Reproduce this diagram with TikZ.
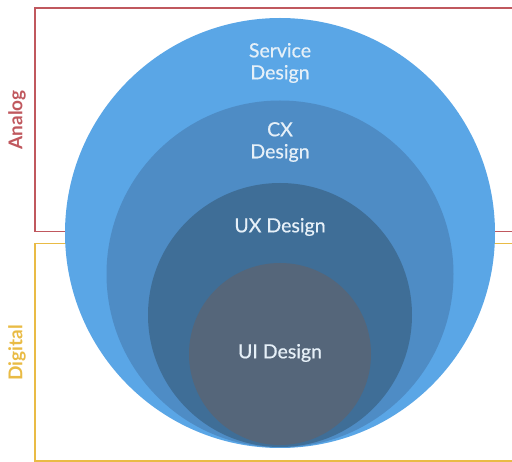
\documentclass[tikz,border=0pt]{standalone}
\usepackage{fontspec}
\setmainfont{Lato}
\newfontfamily\lblfont[FakeBold=0.6]{Lato}
\begin{document}
\begin{tikzpicture}[x=1pt,y=-1pt,
  lbl/.style={font=\lblfont\fontsize{19.5}{22}\selectfont, text=txt, align=center},
  side/.style={font=\bfseries\fontsize{19}{21}\selectfont, rotate=90}]
\definecolor{c1}{HTML}{5AA6E6}
\definecolor{c2}{HTML}{4E8CC5}
\definecolor{c3}{HTML}{3F6E97}
\definecolor{c4}{HTML}{55667A}
\definecolor{txt}{HTML}{E6F0F8}
\definecolor{analogc}{HTML}{C0585E}
\definecolor{digitalc}{HTML}{E9BB45}
\useasboundingbox (0,0) rectangle (512,462);
\clip (0,0) rectangle (512,462);
\draw[analogc, line width=1.4pt] (530,8) -- (35,8) -- (35,231.5) -- (530,231.5);
\draw[digitalc, line width=1.4pt] (530,243.5) -- (35,243.5) -- (35,461) -- (530,461);
\node[side, text=analogc] (analog) at (17,120) {Analog};
\node[side, text=digitalc] (digital) at (17,353) {Digital};
\fill[c1] (280,233) circle (215);
\fill[c2] (280,274) circle (173.5);
\fill[c3] (280,315) circle (132);
\fill[c4] (280,354) circle (91);
\node[lbl] (svc) at (280,63) {Service\\Design};
\node[lbl] (cx) at (280,142) {CX\\Design};
\node[lbl] (ux) at (280,227) {UX Design};
\node[lbl] (ui) at (280,353) {UI Design};
\end{tikzpicture}
\end{document}
